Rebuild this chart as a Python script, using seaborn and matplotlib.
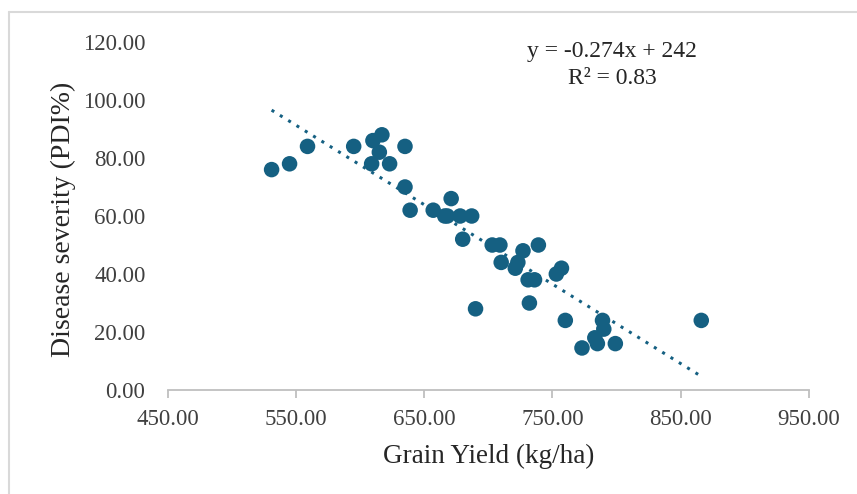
import numpy as np
import pandas as pd
import matplotlib.pyplot as plt
import seaborn as sns
from matplotlib.lines import Line2D

# Grain yield (kg/ha) vs disease severity (PDI%)
grain_yield = [531, 545, 559, 595, 610, 617, 615, 609, 623, 635, 635, 639,
               657, 666, 671, 668, 678, 687, 680, 703, 709, 739, 727, 710,
               721, 723, 731, 736, 753, 757, 690, 732, 760, 789, 790, 783,
               785, 773, 799, 866]
disease_severity = [76, 78, 84, 84, 86, 88, 82, 78, 78, 84, 70, 62,
                    62, 60, 66, 60, 60, 60, 52, 50, 50, 50, 48, 44,
                    42, 44, 38, 38, 40, 42, 28, 30, 24, 24, 21, 18,
                    16, 14.5, 16, 24]

# trendline reported on the chart
slope, intercept = -0.274, 242
r_squared = 0.83

x_ticks = [450, 550, 650, 750, 850, 950]
y_ticks = [0, 20, 40, 60, 80, 100, 120]

df = pd.DataFrame({'yield': grain_yield, 'pdi': disease_severity})

sns.set_theme(style='white')
plt.rcParams['font.family'] = ['Liberation Serif', 'DejaVu Serif']

point_color = '#156082'

fig = plt.figure(figsize=(8.57, 4.94), dpi=100)
ax = fig.add_axes([0.1957, 0.2105, 0.7483, 0.7045])

sns.scatterplot(data=df, x='yield', y='pdi', ax=ax, color=point_color,
                s=125, edgecolor='none', linewidth=0, zorder=3)

# dotted linear trendline across the data range
xs = np.array([min(grain_yield), max(grain_yield)])
ax.plot(xs, slope * xs + intercept, linestyle=(0, (1, 2.2)), color=point_color,
        linewidth=2.2, zorder=2)

ax.set_xlim(450, 950)
ax.set_ylim(0, 120)
ax.set_xticks(x_ticks)
ax.set_yticks(y_ticks)
ax.set_xticklabels([f'{v:.2f}' for v in x_ticks])
ax.set_yticklabels([f'{v:.2f}' for v in y_ticks])

for side in ['top', 'right', 'left']:
    ax.spines[side].set_visible(False)
ax.spines['bottom'].set_color('#BFBFBF')
ax.spines['bottom'].set_linewidth(1.3)
ax.tick_params(axis='x', which='major', bottom=True, length=6, width=1.3,
               color='#BFBFBF', direction='out', labelsize=16.5,
               labelcolor='#404040', pad=8)
ax.tick_params(axis='y', left=False, labelsize=16.5, labelcolor='#404040', pad=10)
ax.grid(False)

ax.set_xlabel('Grain Yield (kg/ha)', fontsize=19.5, color='#262626')
ax.set_ylabel('Disease severity (PDI%)', fontsize=20, color='#262626')
ax.xaxis.label.set_va('center')
ax.yaxis.label.set_va('center')
ax.xaxis.set_label_coords(0.5, -0.19)
ax.yaxis.set_label_coords(-0.163, 0.49)

fig.text(612 / 857, 1 - 52 / 494, f'y = {slope}x + {intercept}', ha='center',
         va='center', fontsize=17, color='#262626')
fig.text(612 / 857, 1 - 78 / 494, f'R² = {r_squared}', ha='center',
         va='center', fontsize=17, color='#262626')

# light chart-area border (top and left edges visible)
fig.add_artist(Line2D([8.5 / 857, 1], [1 - 12 / 494, 1 - 12 / 494],
                      transform=fig.transFigure, color='#D9D9D9', linewidth=1.5))
fig.add_artist(Line2D([8.5 / 857, 8.5 / 857], [0, 1 - 12 / 494],
                      transform=fig.transFigure, color='#D9D9D9', linewidth=1.5))

fig.savefig('out.png', dpi=100)
